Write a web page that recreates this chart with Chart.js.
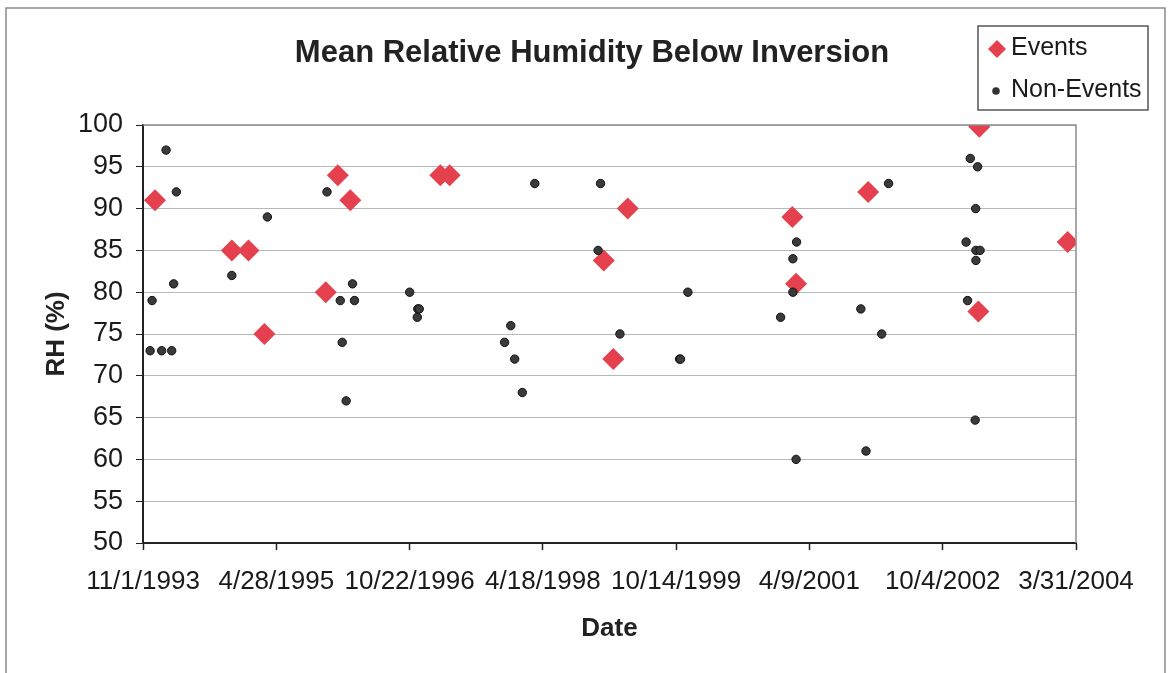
<!DOCTYPE html>
<html>
<head>
<meta charset="utf-8">
<script src="https://cdn.jsdelivr.net/npm/chart.js@4/dist/chart.umd.min.js"></script>
<style>
  html, body { margin: 0; padding: 0; background: #fff; }
  #wrap { width: 1170px; height: 673px; }
</style>
</head>
<body>
<div id="wrap"><canvas id="rhChart" width="1170" height="673"></canvas></div>
<script>
// dữ liệu
const eventDates = ['1993-12-20', '1994-10-29', '1995-01-05', '1995-03-11', '1995-11-16', '1996-01-04',
    '1996-02-24', '1997-02-25', '1997-04-04', '1998-12-23', '1999-01-31', '1999-03-31',
    '2001-01-30', '2001-02-14', '2001-12-05', '2003-02-27', '2003-03-03', '2004-02-26'];
const eventRH = [91, 85, 85, 75, 80, 94, 91, 94, 94, 83.8, 72, 90, 89, 81, 92, 77.7, 99.8, 86];

const nonEventDates = ['1993-11-30', '1993-12-08', '1994-01-16', '1994-02-03', '1994-02-26', '1994-03-06',
    '1994-03-17', '1994-10-29', '1995-03-23', '1995-11-21', '1996-01-14', '1996-01-22',
    '1996-02-07', '1996-03-04', '1996-03-12', '1996-10-23', '1996-11-23', '1996-11-25',
    '1996-12-01', '1997-11-14', '1997-12-09', '1997-12-25', '1998-01-25', '1998-03-17',
    '1998-11-30', '1998-12-10', '1999-02-27', '1999-10-28', '1999-11-01', '1999-12-01',
    '2000-12-13', '2001-02-01', '2001-02-01', '2001-02-16', '2001-02-14', '2001-11-05',
    '2001-11-26', '2002-01-29', '2002-02-26', '2003-01-08', '2003-01-14', '2003-01-25',
    '2003-02-14', '2003-02-16', '2003-02-17', '2003-02-17', '2003-02-24', '2003-03-06'];
const nonEventRH = [73, 79, 73, 97, 73, 81, 92, 82, 89, 92, 79, 74,
    67, 81, 79, 80, 77, 78, 78, 74, 76, 72, 68, 93,
    85, 93, 75, 72, 72, 80, 77, 84, 80, 86, 60, 78,
    61, 75, 93, 86, 79, 96, 64.7, 90, 85, 83.8, 95, 85];

const xStart = '1993-11-01';
const xEnd = '2004-03-31';
const xTickCount = 8;
const yTicks = [50, 55, 60, 65, 70, 75, 80, 85, 90, 95, 100];

const FONT = "'Liberation Sans', Arial, sans-serif";

// ngày -> số ngày (UTC)
function toDay(s) {
    const p = s.split('-').map(Number);
    return Date.UTC(p[0], p[1] - 1, p[2]) / 864e5;
}
function dayLabel(v) {
    const d = new Date(Math.floor(v + 1e-6) * 864e5);
    return (d.getUTCMonth() + 1) + '/' + d.getUTCDate() + '/' + d.getUTCFullYear();
}

const xMin = toDay(xStart);
const xMax = toDay(xEnd);

const eventPts = eventDates.map((d, i) => ({ x: toDay(d), y: eventRH[i] }));
const nonEventPts = nonEventDates.map((d, i) => ({ x: toDay(d), y: nonEventRH[i] }));

// nền, khung ngoài, tiêu đề, chú thích
const decorPlugin = {
    id: 'decor',
    beforeDraw(chart) {
        const ctx = chart.ctx;
        ctx.save();
        ctx.fillStyle = '#fff';
        ctx.fillRect(0, 0, chart.width, chart.height);
        ctx.strokeStyle = '#8a8a8a';
        ctx.lineWidth = 1.5;
        ctx.strokeRect(6, 8, 1159, 700);
        ctx.restore();
    },
    afterDraw(chart) {
        const ctx = chart.ctx;
        const a = chart.chartArea;
        ctx.save();
        // viền trên và phải vùng vẽ
        ctx.strokeStyle = '#8c8c8c';
        ctx.lineWidth = 1.5;
        ctx.beginPath();
        ctx.moveTo(a.left, a.top);
        ctx.lineTo(a.right, a.top);
        ctx.lineTo(a.right, a.bottom);
        ctx.stroke();

        // tiêu đề
        ctx.fillStyle = '#222';
        ctx.font = 'bold 31px ' + FONT;
        ctx.textAlign = 'center';
        ctx.textBaseline = 'middle';
        ctx.fillText('Mean Relative Humidity Below Inversion', 592, 53);

        // chú thích
        ctx.strokeStyle = '#555';
        ctx.lineWidth = 1.5;
        ctx.strokeRect(978, 26, 170, 84);
        ctx.fillStyle = '#e4404e';
        ctx.beginPath();
        ctx.moveTo(997, 40);
        ctx.lineTo(1006, 49);
        ctx.lineTo(997, 58);
        ctx.lineTo(988, 49);
        ctx.closePath();
        ctx.fill();
        ctx.fillStyle = '#333';
        ctx.beginPath();
        ctx.arc(996, 91, 3.8, 0, Math.PI * 2);
        ctx.fill();
        ctx.fillStyle = '#1a1a1a';
        ctx.font = '25px ' + FONT;
        ctx.textAlign = 'left';
        ctx.fillText('Events', 1011, 48);
        ctx.fillText('Non-Events', 1011, 90);
        ctx.restore();
    }
};

new Chart(document.getElementById('rhChart'), {
    type: 'scatter',
    data: {
        datasets: [{
            label: 'Events',
            data: eventPts,
            pointStyle: 'rectRot',
            pointRadius: 11,
            pointHoverRadius: 11,
            backgroundColor: '#e4404e',
            borderColor: '#e4404e',
            borderWidth: 0,
            order: 2
        }, {
            label: 'Non-Events',
            data: nonEventPts,
            pointStyle: 'circle',
            pointRadius: 4.2,
            pointHoverRadius: 4.2,
            backgroundColor: '#3a3a3a',
            borderColor: '#111',
            borderWidth: 1,
            order: 1
        }]
    },
    options: {
        responsive: false,
        animation: false,
        events: [],
        layout: { padding: { left: 0, top: 125, right: 94, bottom: 0 } },
        plugins: {
            legend: { display: false },
            title: { display: false },
            tooltip: { enabled: false }
        },
        scales: {
            x: {
                type: 'linear',
                min: xMin,
                max: xMax,
                afterBuildTicks(scale) {
                    const step = (xMax - xMin) / (xTickCount - 1);
                    scale.ticks = [];
                    for (let i = 0; i < xTickCount; i++) scale.ticks.push({ value: xMin + i * step });
                },
                afterFit(scale) { scale.height = 130; },
                ticks: {
                    autoSkip: false,
                    maxRotation: 0,
                    minRotation: 0,
                    padding: 16,
                    color: '#1a1a1a',
                    font: { family: FONT, size: 26 },
                    callback: v => dayLabel(v)
                },
                grid: {
                    drawOnChartArea: false,
                    drawTicks: true,
                    tickLength: 7,
                    tickColor: '#222',
                    tickWidth: 1.5
                },
                border: { display: true, color: '#222', width: 2 },
                title: {
                    display: true,
                    text: 'Date',
                    color: '#222',
                    font: { family: FONT, size: 26, weight: 'bold' },
                    padding: { top: 0, bottom: 29 }
                }
            },
            y: {
                min: 50,
                max: 100,
                afterBuildTicks(scale) {
                    scale.ticks = yTicks.map(v => ({ value: v }));
                },
                afterFit(scale) { scale.width = 143; },
                ticks: {
                    padding: 13,
                    color: '#1a1a1a',
                    font: { family: FONT, size: 27 }
                },
                grid: {
                    color: '#b8b8b8',
                    lineWidth: 1,
                    drawTicks: true,
                    tickLength: 7,
                    tickColor: '#222'
                },
                border: { display: true, color: '#222', width: 2 },
                title: {
                    display: true,
                    text: 'RH (%)',
                    color: '#222',
                    font: { family: FONT, size: 26, weight: 'bold' },
                    padding: { top: 41, bottom: 0 }
                }
            }
        }
    },
    plugins: [decorPlugin]
});
</script>
</body>
</html>
